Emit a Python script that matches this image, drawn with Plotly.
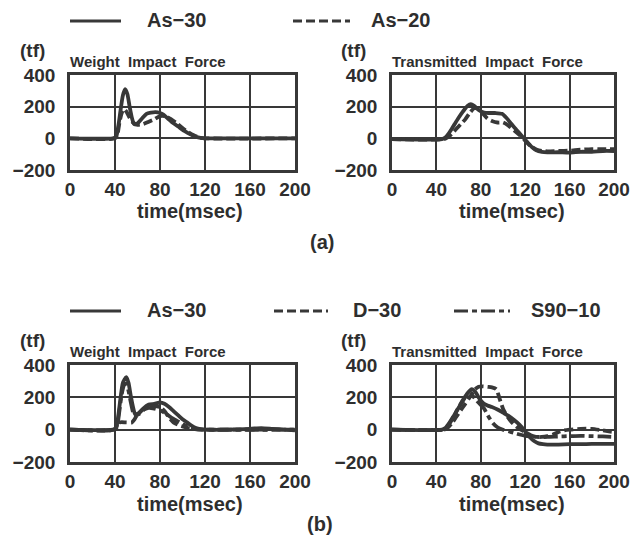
import plotly.graph_objects as go

# ---------------- data ----------------
x_ticks = [0, 40, 80, 120, 160, 200]
y_ticks = [-200, 0, 200, 400]

# (a) Weight impact force
a_w_as30_t = [0, 38, 41, 43, 45, 47, 49, 51, 53, 55, 57, 60, 64, 68, 72, 76, 80, 83, 87, 92, 97, 102, 107, 112, 116, 120, 140, 160, 180, 200]
a_w_as30_v = [0, 0, 10, 80, 180, 270, 310, 280, 200, 130, 90, 95, 125, 155, 162, 165, 160, 150, 125, 95, 70, 45, 25, 10, 3, 0, 0, 0, 0, 0]
a_w_as20_t = [0, 40, 42, 44, 46, 48, 50, 53, 56, 60, 65, 70, 75, 80, 85, 90, 95, 100, 105, 110, 115, 120, 200]
a_w_as20_v = [0, 0, 20, 100, 160, 185, 170, 130, 100, 85, 90, 105, 120, 140, 140, 120, 95, 65, 40, 20, 5, 0, 0]

# (a) Transmitted impact force
a_t_as30_t = [0, 45, 48, 52, 56, 60, 64, 68, 71, 74, 78, 83, 88, 93, 99, 103, 107, 112, 117, 122, 126, 130, 135, 140, 150, 160, 170, 180, 190, 200]
a_t_as30_v = [-5, -5, 5, 40, 85, 130, 170, 205, 216, 205, 180, 162, 160, 160, 155, 130, 95, 55, 15, -25, -55, -75, -85, -88, -88, -90, -85, -85, -80, -80]
a_t_as20_t = [0, 47, 50, 54, 58, 62, 66, 70, 74, 78, 82, 86, 90, 95, 100, 105, 110, 115, 120, 125, 130, 135, 140, 150, 160, 170, 180, 190, 200]
a_t_as20_v = [-5, -5, 5, 30, 60, 90, 120, 160, 190, 185, 155, 125, 110, 100, 100, 80, 50, 20, -15, -50, -70, -80, -82, -80, -78, -72, -68, -68, -68]

# (b) Weight impact force
b_w_as30_t = [0, 38, 41, 43, 45, 47, 50, 52, 54, 56, 58, 61, 65, 70, 75, 80, 84, 88, 92, 96, 100, 104, 108, 112, 116, 120, 140, 160, 170, 180, 190, 200]
b_w_as30_v = [0, 0, 10, 90, 200, 290, 325, 290, 210, 140, 95, 100, 130, 155, 160, 168, 160, 140, 115, 90, 65, 45, 25, 10, 3, 0, 0, 5, 10, 5, 0, -5]
b_w_d30_t = [0, 40, 42, 44, 50, 55, 57, 60, 65, 70, 75, 80, 84, 88, 92, 96, 100, 105, 110, 115, 120, 200]
b_w_d30_v = [0, 0, 20, 45, 45, 45, 60, 95, 125, 140, 145, 140, 115, 75, 45, 30, 20, 10, 5, 0, 0, 0]
b_w_s90_t = [0, 39, 42, 44, 46, 48, 50, 52, 54, 56, 58, 62, 66, 70, 75, 80, 85, 90, 95, 100, 105, 110, 115, 120, 200]
b_w_s90_v = [0, 0, 30, 120, 220, 275, 285, 240, 170, 110, 90, 100, 125, 135, 130, 120, 100, 75, 55, 35, 18, 8, 2, 0, 0]

# (b) Transmitted impact force
b_t_as30_t = [0, 45, 48, 52, 56, 60, 64, 68, 72, 75, 78, 82, 86, 90, 95, 100, 105, 110, 115, 120, 124, 128, 132, 136, 140, 150, 160, 170, 180, 190, 200]
b_t_as30_v = [0, 0, 10, 45, 90, 135, 180, 225, 250, 235, 200, 165, 150, 140, 125, 105, 85, 60, 30, -10, -45, -70, -85, -90, -92, -92, -90, -90, -88, -88, -88]
b_t_d30_t = [0, 47, 50, 54, 58, 62, 66, 70, 74, 78, 82, 86, 90, 94, 97, 100, 104, 108, 112, 116, 120, 125, 130, 135, 140, 145, 150, 155, 160, 170, 180, 190, 200]
b_t_d30_v = [0, 0, 10, 40, 80, 120, 160, 200, 245, 265, 268, 265, 262, 250, 190, 130, 80, 45, 20, 0, -15, -35, -45, -45, -40, -30, -15, -5, 0, 5, 5, -5, -15]
b_t_s90_t = [0, 46, 49, 53, 57, 61, 65, 69, 72, 75, 79, 83, 87, 91, 95, 100, 105, 110, 115, 120, 125, 130, 140, 150, 160, 170, 180, 190, 200]
b_t_s90_v = [0, 0, 10, 50, 100, 150, 195, 225, 215, 190, 160, 130, 80, 40, 15, 0, -10, -20, -30, -38, -42, -45, -45, -42, -40, -38, -40, -42, -45]

# ---------------- styling ----------------
W, H = 641, 550
INK = "#2e2e2e"
LINE = "#383838"
FONT = "Liberation Sans"
DASH = "9px,4px"
DASHDOT = "14px,4px,5px,4px"


def px(x):
    return x / W


def py(y):
    return 1 - y / H


fig = go.Figure()

panels = [
    ("", (70, 295), (75, 170)),
    ("2", (392, 614), (75, 170)),
    ("3", (70, 295), (365, 462)),
    ("4", (392, 614), (365, 462)),
]

series = [
    ("", a_w_as30_t, a_w_as30_v, "solid"),
    ("", a_w_as20_t, a_w_as20_v, DASH),
    ("2", a_t_as30_t, a_t_as30_v, "solid"),
    ("2", a_t_as20_t, a_t_as20_v, DASH),
    ("3", b_w_as30_t, b_w_as30_v, "solid"),
    ("3", b_w_d30_t, b_w_d30_v, DASH),
    ("3", b_w_s90_t, b_w_s90_v, DASHDOT),
    ("4", b_t_as30_t, b_t_as30_v, "solid"),
    ("4", b_t_d30_t, b_t_d30_v, DASH),
    ("4", b_t_s90_t, b_t_s90_v, DASHDOT),
]

for suf, t, v, dash in series:
    fig.add_trace(go.Scatter(
        x=t, y=v, mode="lines", xaxis="x" + suf, yaxis="y" + suf,
        line=dict(color=LINE, width=3.8, dash=dash, shape="spline", smoothing=0.6),
        showlegend=False, hoverinfo="skip"))

tickfont = dict(family=FONT, size=19, color=INK, weight=700)
layout_axes = {}
for suf, (x0, x1), (y0, y1) in panels:
    layout_axes["xaxis" + suf] = dict(
        domain=[px(x0), px(x1)], range=[0, 200], tickvals=x_ticks,
        anchor="y" + suf, showgrid=True, gridcolor=LINE, gridwidth=1.6,
        showline=True, mirror=True, linecolor=LINE, linewidth=2.6,
        zeroline=False, ticks="", tickfont=tickfont, fixedrange=True,
        automargin=False)
    layout_axes["yaxis" + suf] = dict(
        domain=[py(y1), py(y0)], range=[-200, 400], tickvals=y_ticks,
        anchor="x" + suf, showgrid=True, gridcolor=LINE, gridwidth=1.6,
        showline=True, mirror=True, linecolor=LINE, linewidth=2.6,
        zeroline=False, ticks="", tickfont=tickfont, ticklabelstandoff=8,
        fixedrange=True, automargin=False)

annotations = []


def text(s, x, y, size, xanchor="center"):
    annotations.append(dict(
        text=s, x=px(x), y=py(y), xref="paper", yref="paper",
        xanchor=xanchor, yanchor="middle", showarrow=False,
        font=dict(family=FONT, size=size, color=INK, weight=700)))


sp = "\u00a0\u00a0"
for top, tm in ((0, 211), (290, 214)):
    text("(tf)", 18, 50 + top, 19, "left")
    text("(tf)", 339, 50 + top, 19, "left")
    text("Weight" + sp + "Impact" + sp + "Force", 68, 61 + top, 15, "left")
    text("Transmitted" + sp + "Impact" + sp + "Force", 390, 61 + top, 15, "left")
    text("time(msec)", 190, tm + top, 20)
    text("time(msec)", 512, tm + top, 20)

text("(a)", 322, 242, 20)
text("(b)", 320, 524, 20)

# legend texts
text("As\u221230", 145, 20, 20, "left")
text("As\u221220", 369, 20, 20, "left")
text("As\u221230", 145, 310, 20, "left")
text("D\u221230", 351, 310, 20, "left")
text("S90\u221210", 529, 310, 20, "left")

shapes = []


def legline(x0, x1, y, dash):
    shapes.append(dict(type="line", xref="paper", yref="paper",
                       x0=px(x0), x1=px(x1), y0=py(y), y1=py(y),
                       line=dict(color=LINE, width=3, dash=dash)))


legline(70, 121, 21, "solid")
legline(293, 350, 21, DASH)
legline(70, 121, 311, "solid")
legline(274, 328, 311, DASH)
legline(454, 510, 311, DASHDOT)

fig.update_layout(
    width=W, height=H, margin=dict(l=0, r=0, t=0, b=0, autoexpand=False),
    paper_bgcolor="white", plot_bgcolor="white",
    annotations=annotations, shapes=shapes, showlegend=False,
    **layout_axes)

fig.write_html(
    "out.html",
    config={"displayModeBar": False},
    post_script="document.body.style.margin='0';document.body.style.overflow='hidden';")
